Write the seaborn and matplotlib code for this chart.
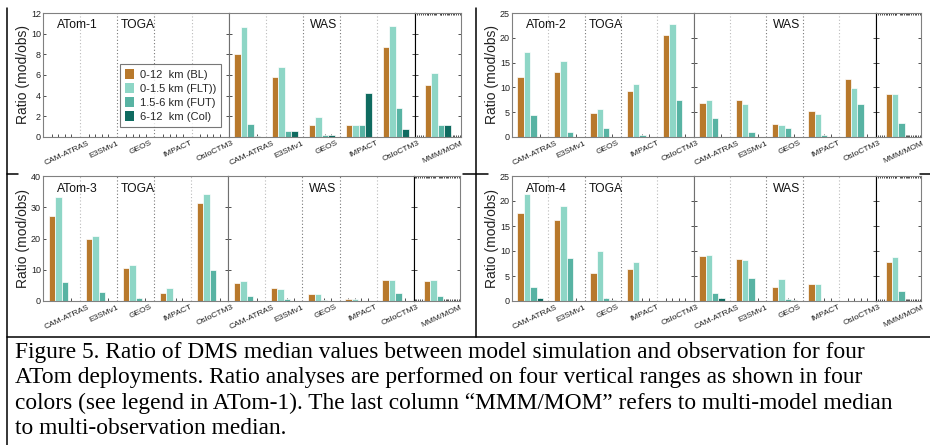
import numpy as np
import pandas as pd
import matplotlib
matplotlib.use("Agg")
import matplotlib.pyplot as plt
import seaborn as sns
from matplotlib.patches import Patch
from matplotlib.lines import Line2D
from matplotlib.transforms import ScaledTranslation

sns.set_theme(style="white")
plt.rcParams["font.family"] = ["Liberation Sans", "DejaVu Sans"]

# ---------------------------------------------------------------- data
models = ["CAM-ATRAS", "E3SMv1", "GEOS", "IMPACT", "OsloCTM3"]
mmm_label = ["MMM/MOM"]
ranges = ["0-12  km (BL)", "0-1.5 km (FLT))", "1.5-6 km (FUT)", "6-12  km (Col)"]
range_colors = ["#B8792C", "#8ED6C6", "#58B3A3", "#0F6B60"]
deployments = ["ATom-1", "ATom-2", "ATom-3", "ATom-4"]

# ratio (mod/obs) per model, one value per vertical range [BL, FLT, FUT, Col]
atom1_toga = [[0, 0, 0, 0], [0, 0, 0, 0], [0, 0, 0, 0], [0, 0, 0, 0], [0, 0, 0, 0]]
atom1_was = [[8.0, 10.6, 1.3, 0.1], [5.8, 6.8, 0.6, 0.6], [1.2, 1.9, 0.2, 0.2],
             [1.2, 1.2, 1.2, 4.3], [8.7, 10.7, 2.8, 0.8]]
atom1_mmm = [5.0, 6.2, 1.2, 1.2]

atom2_toga = [[12.1, 17.2, 4.4, 0], [13.2, 15.3, 1.0, 0], [4.8, 5.6, 1.9, 0],
              [9.3, 10.7, 0.4, 0], [20.6, 22.8, 7.4, 0]]
atom2_was = [[6.9, 7.4, 3.9, 0], [7.4, 6.6, 1.0, 0], [2.7, 2.4, 1.8, 0],
             [5.2, 4.6, 0.4, 0], [11.6, 9.8, 6.6, 0]]
atom2_mmm = [8.7, 8.7, 2.8, 0]

atom3_toga = [[27.2, 33.2, 6.0, 0], [20.0, 20.8, 3.0, 0], [10.7, 11.6, 0.9, 0],
              [2.7, 4.3, 0, 0], [31.5, 34.2, 9.8, 0]]
atom3_was = [[5.8, 6.5, 1.6, 0], [4.2, 3.9, 0.8, 0], [2.2, 2.2, 0.4, 0],
             [0.5, 0.6, 0, 0], [6.8, 6.8, 2.7, 0]]
atom3_mmm = [6.5, 6.8, 1.7, 0.1]

atom4_toga = [[17.7, 21.5, 2.9, 0.6], [16.2, 19.0, 8.6, 0], [5.6, 10.1, 0.55, 0.2],
              [6.5, 7.8, 0, 0], [0, 0, 0, 0]]
atom4_was = [[9.1, 9.25, 1.6, 0.6], [8.4, 8.3, 4.6, 0], [2.9, 4.4, 0.35, 0.2],
             [3.4, 3.4, 0, 0], [0, 0, 0, 0]]
atom4_mmm = [7.9, 8.8, 2.0, 0.1]

panel_toga = [atom1_toga, atom2_toga, atom3_toga, atom4_toga]
panel_was = [atom1_was, atom2_was, atom3_was, atom4_was]
panel_mmm = [atom1_mmm, atom2_mmm, atom3_mmm, atom4_mmm]
y_max = [12, 25, 40, 25]
y_step = [2, 5, 10, 5]

caption = [
    "Figure 5. Ratio of DMS median values between model simulation and observation for four",
    "ATom deployments. Ratio analyses are performed on four vertical ranges as shown in four",
    "colors (see legend in ATom-1). The last column \u201cMMM/MOM\u201d refers to multi-model median",
    "to multi-observation median.",
]

# ---------------------------------------------------------------- layout
W, H = 930, 445
fig = plt.figure(figsize=(W / 100, H / 100), dpi=100)
fig.patch.set_facecolor("white")

# panel boxes in pixels: left, top, right, bottom
panel_px = [(43, 13, 461, 137), (512, 13, 921, 137),
            (43, 176, 460, 301), (512, 176, 921, 301)]
bar_width = 0.7
offsets = (np.arange(len(ranges)) - (len(ranges) - 1) / 2) * bar_width / len(ranges)


def long_table(values, labels):
    rows = []
    for lab, vals in zip(labels, values):
        for rng, v in zip(ranges, vals):
            rows.append({"model": lab, "range": rng, "ratio": v})
    return pd.DataFrame(rows)


def style_axes(ax, ymax, ystep, show_ylabels):
    ax.set_ylim(0, ymax)
    ax.set_yticks(np.arange(0, ymax + 0.01, ystep))
    ax.set_xlabel("")
    ax.set_ylabel("")
    ax.tick_params(axis="y", direction="in", length=2.5, width=0.6, color="#333333",
                   left=True, right=True, labelleft=show_ylabels,
                   labelsize=6.5, pad=1.5, labelcolor="#222222")
    ax.tick_params(axis="x", which="major", length=0, labelsize=6, pad=2,
                   rotation=25, labelcolor="#222222")
    ax.tick_params(axis="x", which="minor", direction="in", length=2.2, width=0.6,
                   color="#333333", bottom=True)
    for sp in ax.spines.values():
        sp.set_color("#808080")
        sp.set_linewidth(0.8)
    shift = ScaledTranslation(5 / 100, 0, fig.dpi_scale_trans)
    for lbl in ax.get_xticklabels():
        lbl.set_transform(lbl.get_transform() + shift)


for p in range(4):
    x0, y0, x1, y1 = panel_px[p]
    unit = (x1 - x0) / 11.25
    widths = [5 * unit, 5 * unit, 1.25 * unit]
    lefts = [x0, x0 + widths[0], x0 + widths[0] + widths[1]]
    axes = []
    for k in range(3):
        ax = fig.add_axes([lefts[k] / W, 1 - y1 / H, widths[k] / W, (y1 - y0) / H])
        axes.append(ax)
    ax_t, ax_w, ax_m = axes

    for ax, vals, labels in [(ax_t, panel_toga[p], models),
                             (ax_w, panel_was[p], models),
                             (ax_m, [panel_mmm[p]], mmm_label)]:
        df = long_table(vals, labels)
        sns.barplot(data=df, x="model", y="ratio", hue="range", order=labels,
                    hue_order=ranges, palette=range_colors, width=bar_width,
                    saturation=1, edgecolor="white", linewidth=0.5,
                    errorbar=None, legend=False, ax=ax)
        n = len(labels)
        minor = [i + o for i in range(n) for o in offsets]
        if n == 1:
            ax.set_xlim(-0.625, 0.625)
            minor = sorted(set(list(np.round(np.linspace(-0.6, 0.6, 25), 3)) + minor))
            ax.tick_params(axis="x", which="minor", top=True)
        else:
            ax.set_xlim(-0.5, n - 0.5)
            for i in range(n - 1):
                light = i in (0, n - 2)
                ax.axvline(i + 0.5, color="#bbbbbb" if light else "#777777",
                           ls=(0, (1, 2)), lw=0.8, zorder=0)
        ax.set_xticks(minor, minor=True)
        style_axes(ax, y_max[p], y_step[p], ax is ax_t)
        if n == 1:
            ax.tick_params(axis="x", which="minor", length=1.6)

    ax_t.spines["right"].set_color("#707070")
    ax_w.spines["left"].set_color("#707070")
    ax_w.spines["right"].set_color("black")
    ax_m.spines["left"].set_color("black")

    ax_t.set_ylabel("Ratio (mod/obs)", fontsize=10, labelpad=0.5, color="#222222")
    ax_t.text(0.075, 0.9, deployments[p], transform=ax_t.transAxes,
              fontsize=8.7, va="center", ha="left", color="#111111")
    ax_t.text(0.42, 0.9, "TOGA", transform=ax_t.transAxes,
              fontsize=8.7, va="center", ha="left", color="#111111")
    ax_w.text(0.51, 0.9, "WAS", transform=ax_w.transAxes,
              fontsize=8.7, va="center", ha="center", color="#111111")

    if p == 0:
        handles = [Patch(facecolor=c, edgecolor="none") for c in range_colors]
        leg = ax_t.legend(handles, ranges, loc="lower left",
                          bbox_to_anchor=(0.415, 0.08), borderaxespad=0,
                          frameon=True, fancybox=False, fontsize=8,
                          handlelength=0.8, handleheight=1.0, handletextpad=0.5,
                          labelspacing=0.3, borderpad=0.45)
        leg.get_frame().set_edgecolor("#555555")
        leg.get_frame().set_linewidth(0.8)

# table rules around the panels and caption
rules = [((7, 8), (7, 445)), ((476, 8), (476, 337)), ((7, 337), (930, 337)),
         ((7, 174), (18, 174)), ((463, 174), (488, 174)), ((920, 174), (930, 174))]
for (xa, ya), (xb, yb) in rules:
    fig.add_artist(Line2D([xa / W, xb / W], [1 - ya / H, 1 - yb / H],
                          transform=fig.transFigure, color="black", lw=1.1))

for i, line in enumerate(caption):
    fig.text(15 / W, 1 - (358 + 25.5 * i) / H, line, fontsize=16.8,
             family=["Liberation Serif", "DejaVu Serif"], va="baseline",
             ha="left", color="black")

fig.savefig("out.png", dpi=100, facecolor="white")
